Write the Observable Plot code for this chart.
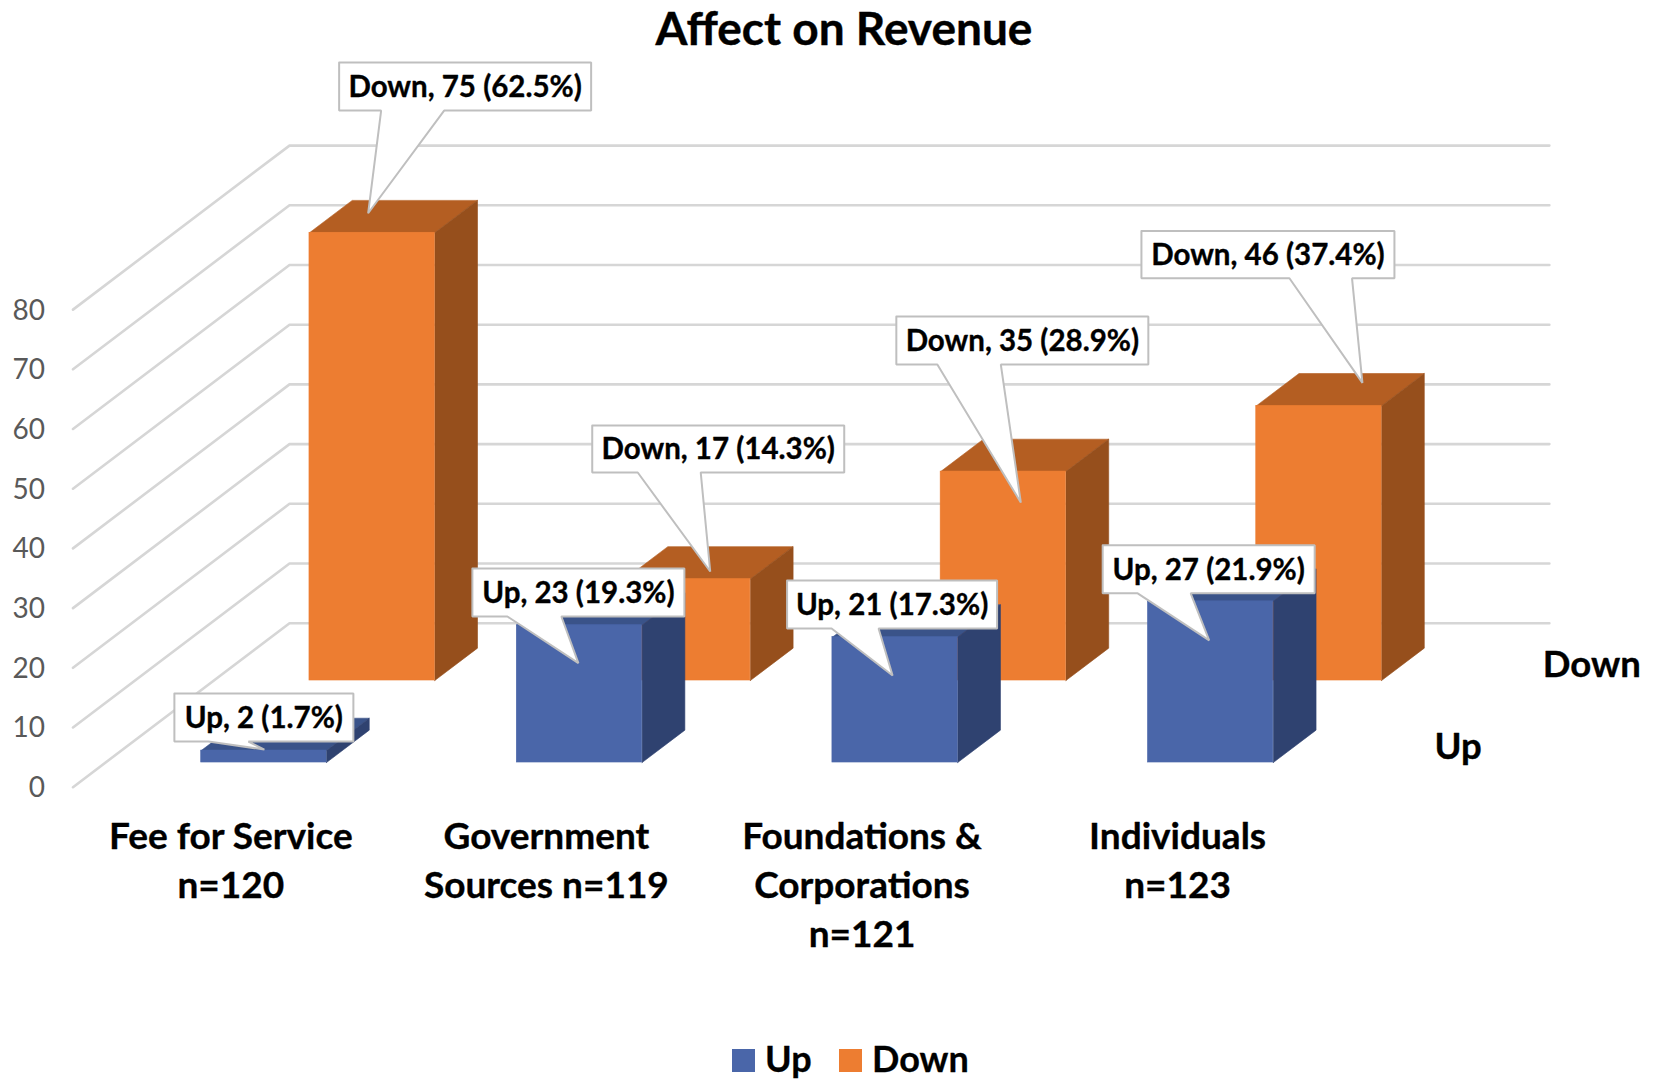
<!DOCTYPE html>
<html><head><meta charset="utf-8">
<script src="https://cdn.jsdelivr.net/npm/d3@7"></script>
<script src="https://cdn.jsdelivr.net/npm/@observablehq/plot@0.6"></script>
<style>
html,body{margin:0;padding:0;background:#fff;width:1653px;height:1081px;overflow:hidden;font-family:Lato,sans-serif;color:#000}
#t{position:absolute;left:35px;top:5px;width:1618px;text-align:center;font-size:46px;font-weight:700;line-height:46px;-webkit-text-stroke:0.4px #000}
#c{position:absolute;left:0;top:52px}
#l{position:absolute;left:0;top:1038px;width:1653px;height:41px;font-size:36px;font-weight:700;-webkit-text-stroke:0.3px #000}
#l i{position:absolute;top:11px;width:23px;height:23px}
#l span{position:absolute;top:0;line-height:40px}
</style></head><body>
<div id="t">Affect on Revenue</div>
<div id="c"></div>
<div id="l"><i style="left:732px;background:#4a66a9"></i><span style="left:765px">Up</span><i style="left:839px;background:#ed7d31"></i><span style="left:872px">Down</span></div>
<script>
// ---- data ----
const categories = ["Fee for Service\nn=120","Government\nSources n=119","Foundations &\nCorporations\nn=121","Individuals\nn=123"];
const upValues = [2,23,21,27];
const downValues = [75,17,35,46];
const upPercents = [1.7,19.3,17.3,21.9];
const downPercents = [62.5,14.3,28.9,37.4];
const valueTicks = [0,10,20,30,40,50,60,70,80];
const seriesNames = ["Up","Down"];

// ---- layout ----
const T = 52, H = 988;
const xRange = [72.5,1334.9], yRange = [786.7-T, 309.1-T];
const perCat = (xRange[1]-xRange[0])/4, perVal = (yRange[0]-yRange[1])/80;
const rowX = 108.25/perCat, rowY = 82/perVal;      // one depth row in data units
const rowStart = [0.301,1.301], barDepth = 0.395, floorDepth = 2, gridEnd = 3.992;
const barL = 0.303, barR = 0.7;
const px = (c,d)=>c+d*rowX, vy = (v,d)=>v+d*rowY;
const colors = {Up:{front:"#4a66a9",top:"#3a5389",side:"#2f4270"},Down:{front:"#ed7d31",top:"#b45e22",side:"#964f1c"}};

// callout geometry in pixels: tip offset from bar's top-front centre, box relative to tip, wedge base relative to tip
const calloutGeom = {
 Up:[[1,-1,-90,-56,179,48,-56,-16],[-0.6,38,-106,-94.7,212,48,-71,-17],[-2,38.4,-105.5,-95,210,48,-61,-14],[-1,39,-106.5,-95,212,48,-71.5,-18.5]],
 Down:[[-3.5,-19.5,-29,-150.7,252,48,13,76],[23,-7.5,-118,-146,252,47,-72.5,-9.5],[18,31,-124.5,-186,252,48,-83.5,-20],[44,-23,-221,-152,253,47.4,-73,-10.4]]
};

// ---- build marks' tables ----
const bars = [];
seriesNames.forEach((s,si)=>{
  const vals = s==="Up"?upValues:downValues, pct = s==="Up"?upPercents:downPercents;
  vals.forEach((v,i)=>bars.push({s,i,v,p:pct[i],d:rowStart[si]}));
});
const gridPts = valueTicks.flatMap(v=>[
  {v,x:px(0,0),y:vy(v,0)},{v,x:px(0,floorDepth),y:vy(v,floorDepth)},{v,x:px(gridEnd,floorDepth),y:vy(v,floorDepth)}]);
const face = (b,kind)=>{
  const L=b.i+barL,R=b.i+barR,d0=b.d,d1=b.d+barDepth;
  const pts = kind==="top"
    ? [[L,b.v,d0],[R,b.v,d0],[R,b.v,d1],[L,b.v,d1],[L,b.v,d0]]
    : [[R,0,d0],[R,b.v,d0],[R,b.v,d1],[R,0,d1],[R,0,d0]];
  return pts.map(([c,v,d])=>({id:b.s+b.i+kind,s:b.s,x:px(c,d),y:vy(v,d)}));
};
const barMarks = s=>{
  const B = bars.filter(b=>b.s===s);
  return [
    Plot.line(B.flatMap(b=>face(b,"top")),{x:"x",y:"y",z:"id",fill:colors[s].top,stroke:colors[s].top,strokeWidth:0.6}),
    Plot.line(B.flatMap(b=>face(b,"side")),{x:"x",y:"y",z:"id",fill:colors[s].side,stroke:colors[s].side,strokeWidth:0.6}),
    Plot.rect(B,{x1:b=>px(b.i+barL,b.d),x2:b=>px(b.i+barR,b.d),y1:b=>vy(0,b.d),y2:b=>vy(b.v,b.d),fill:colors[s].front,stroke:colors[s].front,strokeWidth:0.6,inset:0})
  ];
};
const callout = b=>{
  const [tx,ty,bl,bt,w,h,wa,wb] = calloutGeom[b.s][b.i];
  const cx = px(b.i+0.5,b.d), cy = vy(b.v,b.d);
  const X = dx=>cx+(tx+dx)/perCat, Y = dy=>cy-(ty+dy)/perVal;
  const ring = [[bl,bt],[bl+w,bt],[bl+w,bt+h],[wb,bt+h],[0,0],[wa,bt+h],[bl,bt+h],[bl,bt]];
  return {poly:ring.map(([a,c])=>({id:b.s+b.i,x:X(a),y:Y(c)})),
          label:{t:`${b.s}, ${b.v} (${b.p}%)`,x:X(bl+w/2),y:Y(bt+h/2)}};
};
const orderedBars = [...bars.filter(b=>b.s==="Down"),...bars.filter(b=>b.s==="Up")];
const calls = orderedBars.map(callout);
const heavy = {stroke:"#000",strokeWidth:0.35};

const chart = Plot.plot({
  width:1653,height:H,margin:0,
  x:{domain:[0,4],range:xRange,axis:null},
  y:{domain:[0,80],range:yRange,axis:null},
  style:{background:"transparent",fontFamily:"Lato,sans-serif",overflow:"visible"},
  marks:[
    Plot.line(gridPts,{x:"x",y:"y",z:"v",stroke:"#d6d6d6",strokeWidth:2.6}),
    Plot.text(valueTicks,{x:()=>0,y:d=>d,text:d=>String(d),textAnchor:"end",dx:-28,dy:1,fontSize:28,fill:"#595959"}),
    ...barMarks("Down"),
    ...barMarks("Up"),
    ...calls.map(c=>Plot.line(c.poly,{x:"x",y:"y",fill:"#fff",stroke:"#bfbfbf",strokeWidth:2,strokeLinejoin:"miter"})),
    Plot.text(calls.map(c=>c.label),{x:"x",y:"y",text:"t",dy:1,fontSize:29.5,fontWeight:700,fill:"#000",...heavy}),
    Plot.text(categories,{x:(d,i)=>i+0.5,y:()=>0,text:d=>d,lineAnchor:"top",dy:27,lineHeight:1.32,fontSize:37,fontWeight:700,fill:"#000",...heavy}),
    Plot.text(seriesNames,{x:(d,i)=>px(4,i+0.5),y:(d,i)=>vy(0,i+0.5),text:d=>d,textAnchor:"start",dx:45,dy:1,fontSize:36.5,fontWeight:700,fill:"#000",...heavy})
  ]
});
document.getElementById("c").appendChild(chart);
</script>
</body></html>
